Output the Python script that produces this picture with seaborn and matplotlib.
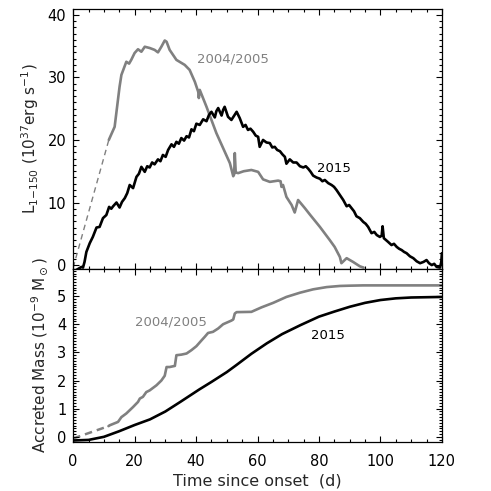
"""Outburst light curves and accreted mass, 2004/2005 vs 2015"""

import numpy as np
import pandas as pd
import matplotlib
matplotlib.use('Agg')
import matplotlib.pyplot as plt
from matplotlib.ticker import MultipleLocator
from matplotlib.collections import LineCollection
import seaborn as sns

# ---- luminosity, 2004/2005 (grey) ----
dash_day_0405 = [0.0, 11.6]
dash_lum_0405 = [-0.4, 20.0]
day_0405 = [11.6, 13.5, 15.1, 15.7, 17.3, 18.2, 18.9, 20.0, 21.1, 22.2, 23.3, 24.9,
            26.5, 27.6, 28.7, 29.8, 30.4, 31.4, 33.6, 36.3, 37.9, 39.6, 40.7, 40.9,
            41.2, 43.4, 46.6, 48.8, 51.0, 52.1, 52.4, 52.6, 52.9, 53.7, 55.5, 58.0,
            60.2, 61.8, 64.0, 66.7, 67.5, 67.8, 68.3, 69.4, 71.1, 72.1, 73.2, 75.4,
            77.0, 80.3, 83.5, 85.1, 86.8, 87.3, 89.0, 91.1, 93.3, 94.5]
lum_0405 = [20.0, 22.1, 28.5, 30.4, 32.5, 32.2, 32.8, 33.9, 34.5, 34.1, 34.9, 34.7,
            34.4, 34.0, 34.9, 35.9, 35.7, 34.4, 32.8, 32.0, 31.2, 29.3, 27.7, 26.7,
            28.0, 25.3, 21.1, 18.7, 16.3, 14.2, 14.5, 17.9, 14.8, 14.7, 15.0, 15.2,
            14.9, 13.7, 13.3, 13.5, 13.4, 12.5, 12.8, 10.9, 9.6, 8.4, 10.4, 9.1,
            8.1, 6.1, 4.0, 2.9, 1.3, 0.3, 1.1, 0.5, -0.2, -0.4]

# ---- luminosity, 2015 (black) ----
day_2015 = [1.0, 2.7, 3.2, 3.7, 4.3, 5.4, 6.4, 7.6, 8.6, 9.7, 10.8, 11.7, 12.4, 13.0,
            14.1, 15.1, 15.9, 16.8, 17.6, 18.4, 19.5, 20.6, 21.4, 22.2, 23.3, 24.1,
            24.9, 25.7, 26.5, 27.6, 28.4, 29.2, 30.1, 30.9, 32.0, 32.8, 33.6, 34.4,
            35.2, 36.1, 36.9, 37.7, 38.5, 39.3, 40.1, 41.2, 42.3, 43.4, 44.2, 45.0,
            46.1, 46.6, 47.2, 48.3, 48.8, 49.3, 50.4, 51.5, 52.3, 53.2, 54.2, 55.3,
            56.1, 56.9, 57.7, 58.6, 59.4, 60.2, 60.7, 61.8, 62.9, 64.0, 64.8, 65.6,
            66.4, 67.3, 68.1, 68.9, 69.4, 70.5, 71.6, 72.7, 73.8, 74.9, 75.7, 76.5,
            77.3, 78.1, 79.2, 80.3, 81.1, 81.9, 83.0, 84.1, 84.9, 85.7, 86.8, 87.9,
            89.0, 89.8, 90.6, 91.4, 92.2, 93.3, 94.4, 95.2, 96.0, 97.1, 98.0, 98.8,
            99.8, 100.4, 100.7, 101.1, 101.8, 102.5, 103.6, 104.4, 105.3, 106.1,
            106.9, 107.7, 108.5, 109.6, 110.7, 111.8, 112.9, 114.0, 115.0, 115.8,
            116.7, 117.5, 118.3, 119.4, 119.8, 120.0]
lum_2015 = [-0.8, -0.3, -0.4, 0.5, 2.1, 3.5, 4.5, 6.0, 6.1, 7.5, 8.0, 9.3, 9.0, 9.4,
            10.0, 9.2, 10.1, 10.7, 11.5, 12.8, 12.3, 14.1, 14.6, 15.7, 14.9, 15.8,
            15.6, 16.4, 16.1, 16.9, 16.6, 17.6, 17.3, 18.4, 19.3, 18.9, 19.7, 19.4,
            20.3, 19.9, 20.6, 20.4, 21.7, 21.4, 22.6, 22.4, 23.3, 23.0, 24.0, 24.5,
            23.6, 24.6, 25.1, 23.9, 24.8, 25.3, 23.7, 23.2, 23.8, 24.5, 23.5, 22.1,
            22.4, 21.6, 21.8, 21.3, 20.7, 20.5, 18.9, 20.0, 19.6, 19.5, 18.8, 18.9,
            18.4, 18.2, 17.7, 17.3, 16.2, 16.9, 16.4, 16.4, 15.8, 15.6, 15.8, 15.4,
            14.9, 14.3, 14.0, 13.8, 13.4, 13.6, 13.1, 12.8, 12.5, 12.0, 11.2, 10.4,
            9.4, 9.6, 9.1, 8.6, 7.8, 7.5, 6.9, 6.6, 6.1, 5.1, 5.3, 4.8,
            4.5, 4.7, 6.2, 4.3, 4.0, 3.7, 3.2, 3.4, 2.9, 2.6,
            2.4, 2.1, 1.9, 1.4, 1.1, 0.6, 0.3, 0.5, 0.8, 0.3,
            0.0, 0.2, -0.3, -0.4, 0.5, 1.9]

# ---- accreted mass ----
dash_day_mass = [0.0, 11.5]
dash_mass_0405 = [-0.06, 0.38]
mday_0405 = [11.5, 11.9, 14.6, 15.7, 17.3, 19.5, 21.1, 21.7, 22.7, 23.8, 24.9, 27.1,
             28.7, 29.8, 30.4, 31.4, 33.1, 33.6, 35.2, 36.9, 38.5, 40.1, 41.8, 42.8,
             43.9, 45.5, 47.2, 48.8, 51.5, 52.1, 52.6, 53.2, 58.0, 61.3, 65.1, 69.4,
             73.8, 78.1, 82.5, 86.8, 90.0, 94.4, 100.0, 110.0, 120.0]
mass_0405 = [0.38, 0.41, 0.53, 0.70, 0.83, 1.06, 1.24, 1.36, 1.42, 1.59, 1.65, 1.83,
             2.00, 2.17, 2.48, 2.48, 2.52, 2.90, 2.92, 2.96, 3.08, 3.22, 3.43, 3.55,
             3.69, 3.73, 3.85, 4.00, 4.13, 4.17, 4.38, 4.43, 4.44, 4.60, 4.76, 4.97,
             5.12, 5.24, 5.32, 5.36, 5.37, 5.38, 5.38, 5.38, 5.38]
mday_2015 = [0, 5, 10, 15, 20, 25, 30, 35, 41, 45, 50, 53, 58, 63, 68, 74, 80, 85,
             90, 95, 100, 105, 110, 115, 120]
mass_2015 = [-0.13, -0.11, 0.0, 0.2, 0.42, 0.62, 0.9, 1.25, 1.68, 1.95, 2.3, 2.54,
             2.95, 3.32, 3.65, 3.97, 4.27, 4.45, 4.62, 4.76, 4.86, 4.92, 4.95, 4.96,
             4.97]

GREY = '#808080'
MAJOR_LEN, MINOR_LEN = 4.5, 2.2   # points

sns.set_style('ticks')
plt.rcParams.update({
    'font.family': ['DejaVu Sans'],
    'mathtext.fontset': 'dejavusans',
    'xtick.color': 'black', 'ytick.color': 'black',
    'xtick.labelsize': 10.5, 'ytick.labelsize': 10.5,
    'axes.edgecolor': 'black', 'axes.linewidth': 0.9,
})

fig = plt.figure(figsize=(4.91, 4.91), dpi=100)
ax1 = fig.add_axes([0.149, 0.452, 0.751, 0.530])
ax2 = fig.add_axes([0.149, 0.100, 0.751, 0.352])

line_kw = dict(estimator=None, sort=False, legend=False)

# top panel
sns.lineplot(x=dash_day_0405, y=dash_lum_0405, ax=ax1, color=GREY, lw=1.0,
             linestyle=(0, (4, 3)), **line_kw)
sns.lineplot(x=day_0405, y=lum_0405, ax=ax1, color=GREY, lw=1.9, **line_kw)
sns.lineplot(x=day_2015, y=lum_2015, ax=ax1, color='black', lw=1.9, **line_kw)
ax1.text(52, 33.0, '2004/2005', color=GREY, fontsize=9.5, ha='center', va='center')
ax1.text(85, 15.5, '2015', color='black', fontsize=9.5, ha='center', va='center')

# bottom panel
sns.lineplot(x=dash_day_mass, y=dash_mass_0405, ax=ax2, color=GREY, lw=1.8,
             linestyle=(0, (3, 2)), **line_kw)
sns.lineplot(x=mday_0405, y=mass_0405, ax=ax2, color=GREY, lw=1.9, **line_kw)
sns.lineplot(x=mday_2015, y=mass_2015, ax=ax2, color='black', lw=1.9, **line_kw)
ax2.text(31.8, 4.09, '2004/2005', color=GREY, fontsize=9.5, ha='center', va='center')
ax2.text(83, 3.61, '2015', color='black', fontsize=9.5, ha='center', va='center')

for ax in (ax1, ax2):
    ax.set_xlim(0, 120)
    ax.xaxis.set_major_locator(MultipleLocator(20))
    ax.xaxis.set_minor_locator(MultipleLocator(5))

ax1.set_ylim(-0.64, 40.96)
ax1.yaxis.set_major_locator(MultipleLocator(10))
ax1.yaxis.set_minor_locator(MultipleLocator(1))
ax1.set_xlabel('')
ax1.set_ylabel(r'L$_{1\mathrm{-}150}$ (10$^{37}$erg s$^{-1}$)', fontsize=11, labelpad=5)

ax2.set_ylim(-0.18, 5.96)
ax2.yaxis.set_major_locator(MultipleLocator(1))
ax2.yaxis.set_minor_locator(MultipleLocator(0.1))
ax2.set_xlabel('Time since onset  (d)', fontsize=11.5, labelpad=3)
ax2.set_ylabel(r'Accreted Mass (10$^{-9}$ M$_\odot$)', fontsize=11, labelpad=5)


def inward_ticks(ax):
    """IDL-like inward ticks on all four sides, drawn as line segments
    at the locator positions (the built-in tick marks do not render here)."""
    pos = ax.get_position()
    w_pt = pos.width * fig.get_figwidth() * 72
    h_pt = pos.height * fig.get_figheight() * 72
    x0, x1 = ax.get_xlim()
    y0, y1 = ax.get_ylim()
    xsegs, ysegs = [], []
    for locs, pts in ((ax.xaxis.get_majorticklocs(), MAJOR_LEN),
                      (ax.xaxis.get_minorticklocs(), MINOR_LEN)):
        d = pts / h_pt
        for v in locs:
            if x0 - 1e-9 <= v <= x1 + 1e-9:
                xsegs += [[(v, 0), (v, d)], [(v, 1 - d), (v, 1)]]
    for locs, pts in ((ax.yaxis.get_majorticklocs(), MAJOR_LEN),
                      (ax.yaxis.get_minorticklocs(), MINOR_LEN)):
        d = pts / w_pt
        for v in locs:
            if y0 - 1e-9 <= v <= y1 + 1e-9:
                ysegs += [[(0, v), (d, v)], [(1 - d, v), (1, v)]]
    ax.add_collection(LineCollection(xsegs, colors='black', linewidths=0.8,
                                     transform=ax.get_xaxis_transform(),
                                     zorder=4, clip_on=False))
    ax.add_collection(LineCollection(ysegs, colors='black', linewidths=0.8,
                                     transform=ax.get_yaxis_transform(),
                                     zorder=4, clip_on=False))
    ax.set_xlim(x0, x1)
    ax.set_ylim(y0, y1)


for ax in (ax1, ax2):
    ax.tick_params(which='both', direction='in', length=0)
    ax.tick_params(axis='y', pad=5)
    inward_ticks(ax)
ax1.tick_params(axis='x', labelbottom=False)
ax2.tick_params(axis='x', pad=9)

fig.savefig('out.png', dpi=100, facecolor='white')
